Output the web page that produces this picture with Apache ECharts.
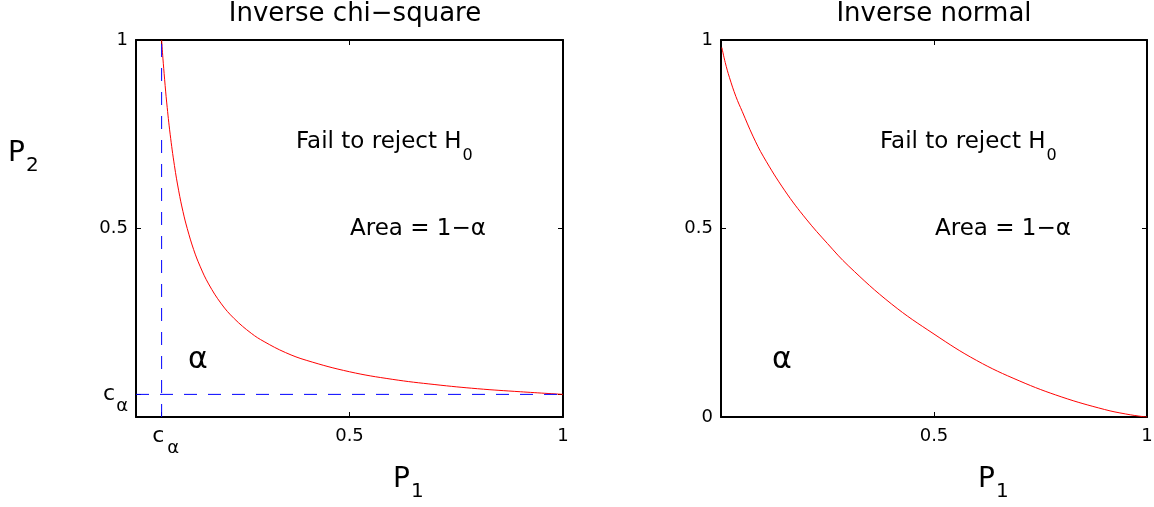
<!DOCTYPE html>
<html>
<head>
<meta charset="utf-8">
<script src="https://cdn.jsdelivr.net/npm/echarts@6/dist/echarts.min.js"></script>
<style>
  html, body { margin: 0; background: #fff; }
  #chart { width: 1154px; height: 507px; }
</style>
</head>
<body>
<div id="chart"></div>
<script>
const cAlpha = 0.06;

// left panel: P1 * P2 = c_alpha boundary
const chiP1 = [0.06, 0.063, 0.067, 0.072, 0.08, 0.09, 0.1, 0.11, 0.12, 0.135, 0.15, 0.17, 0.2, 0.23, 0.27, 0.3, 0.35, 0.4, 0.5, 0.6, 0.7, 0.8, 0.9, 1];
const chiP2 = [1, 0.952, 0.896, 0.833, 0.75, 0.667, 0.6, 0.545, 0.5, 0.444, 0.4, 0.353, 0.3, 0.261, 0.222, 0.2, 0.171, 0.15, 0.12, 0.1, 0.086, 0.075, 0.067, 0.06];

// right panel: inverse normal boundary
const normP1 = [0.002, 0.01, 0.02, 0.035, 0.05, 0.075, 0.1, 0.15, 0.2, 0.25, 0.3, 0.4, 0.5, 0.6, 0.7, 0.8, 0.9, 0.95, 0.99, 1];
const normP2 = [0.98, 0.94, 0.9, 0.85, 0.81, 0.745, 0.69, 0.6, 0.525, 0.46, 0.4, 0.3, 0.22, 0.15, 0.096, 0.053, 0.02, 0.008, 0.001, 0];

const chiTicksX = [cAlpha, 0.5, 1];
const chiTicksY = [cAlpha, 0.5, 1];
const normTicksX = [0.5, 1];
const normTicksY = [0, 0.5, 1];

const titles = ['Inverse chi\u2212square', 'Inverse normal'];

const FONT = '"DejaVu Sans"';
const black = '#000';

function fmt(v) {
  return Math.abs(v - cAlpha) < 1e-9 ? '{a|c}{s|\u03b1}' : '{c|' + v + '}';
}

function tickRich(cPad, sPad) {
  return {
    c: { fontSize: 18, lineHeight: 20, fontFamily: FONT, color: black },
    a: { fontSize: 22, lineHeight: 22, padding: [0, 0, 0, cPad], fontFamily: FONT, color: black },
    s: { fontSize: 18, lineHeight: 18, padding: [24, 0, 0, sPad], fontFamily: FONT, color: black }
  };
}

const frameLine = { show: true, onZero: false, lineStyle: { color: black, width: 2 } };
function ticks(vals) {
  return { show: true, inside: true, length: 5, customValues: vals, lineStyle: { color: black, width: 1 } };
}

function xAxes(gi, vals) {
  return [
    {
      type: 'value', gridIndex: gi, min: 0, max: 1, position: 'bottom',
      axisLine: frameLine, axisTick: ticks(vals), splitLine: { show: false },
      axisLabel: { customValues: vals, formatter: fmt, rich: tickRich(8, 3), margin: 19, verticalAlign: 'middle' }
    },
    {
      type: 'value', gridIndex: gi, min: 0, max: 1, position: 'top',
      axisLine: frameLine, axisTick: ticks(vals), splitLine: { show: false }, axisLabel: { show: false }
    }
  ];
}
function yAxes(gi, vals) {
  return [
    {
      type: 'value', gridIndex: gi, min: 0, max: 1, position: 'left',
      axisLine: frameLine, axisTick: ticks(vals), splitLine: { show: false },
      axisLabel: { customValues: vals, formatter: fmt, rich: tickRich(0, 1), margin: 8 }
    },
    {
      type: 'value', gridIndex: gi, min: 0, max: 1, position: 'right',
      axisLine: frameLine, axisTick: ticks(vals), splitLine: { show: false }, axisLabel: { show: false }
    }
  ];
}

const txtRich = (size, sub, drop) => ({
  t: { fontSize: size, lineHeight: size + 2, fontFamily: FONT, color: black },
  s: { fontSize: sub, lineHeight: sub, padding: [drop * 2, 0, 0, 1], fontFamily: FONT, color: black }
});

function label(x, y, text, rich, align) {
  return { type: 'text', x: x, y: y, silent: true,
    style: { text: text, rich: rich, align: align || 'left', verticalAlign: 'middle' } };
}
function plain(x, y, text, size, align) {
  return { type: 'text', x: x, y: y, silent: true,
    style: { text: text, fill: black, font: size + 'px ' + FONT, align: align || 'left', verticalAlign: 'middle' } };
}

const chart = echarts.init(document.getElementById('chart'));
chart.setOption({
  animation: false,
  backgroundColor: '#fff',
  grid: [
    { left: 136, top: 40, width: 427, height: 377, outerBoundsMode: 'none' },
    { left: 721, top: 40, width: 426, height: 377, outerBoundsMode: 'none' }
  ],
  xAxis: [].concat(xAxes(0, chiTicksX), xAxes(1, normTicksX)),
  yAxis: [].concat(yAxes(0, chiTicksY), yAxes(1, normTicksY)),
  series: [
    {
      type: 'line', xAxisIndex: 0, yAxisIndex: 0, showSymbol: false, silent: true,
      smooth: 0.4,
      data: chiP1.map((x, i) => [x, chiP2[i]]),
      lineStyle: { color: '#ff0000', width: 1 }
    },
    {
      type: 'line', xAxisIndex: 0, yAxisIndex: 0, showSymbol: false, silent: true,
      data: [[cAlpha, 0], [cAlpha, 1]],
      lineStyle: { color: '#0000ff', width: 1, type: [13, 11] }
    },
    {
      type: 'line', xAxisIndex: 0, yAxisIndex: 0, showSymbol: false, silent: true,
      data: [[0, cAlpha], [1, cAlpha]],
      lineStyle: { color: '#0000ff', width: 1, type: [13, 11] }
    },
    {
      type: 'line', xAxisIndex: 2, yAxisIndex: 2, showSymbol: false, silent: true,
      smooth: 0.4,
      data: normP1.map((x, i) => [x, normP2[i]]),
      lineStyle: { color: '#ff0000', width: 1 }
    }
  ],
  graphic: [
    plain(355, 14, titles[0], 26, 'center'),
    plain(934, 14, titles[1], 26, 'center'),
    label(296, 142, '{t|Fail to reject H}{s|0}', txtRich(23, 16, 14)),
    label(880, 142, '{t|Fail to reject H}{s|0}', txtRich(23, 16, 14)),
    plain(350, 229, 'Area = 1\u2212\u03b1', 23),
    plain(935, 229, 'Area = 1\u2212\u03b1', 23),
    plain(198, 360, '\u03b1', 30, 'center'),
    plain(782, 360, '\u03b1', 30, 'center'),
    label(8, 154, '{t|P}{s|2}', txtRich(28, 20, 12)),
    label(393, 480, '{t|P}{s|1}', txtRich(28, 20, 12)),
    label(978, 480, '{t|P}{s|1}', txtRich(28, 20, 12))
  ]
});
</script>
</body>
</html>
